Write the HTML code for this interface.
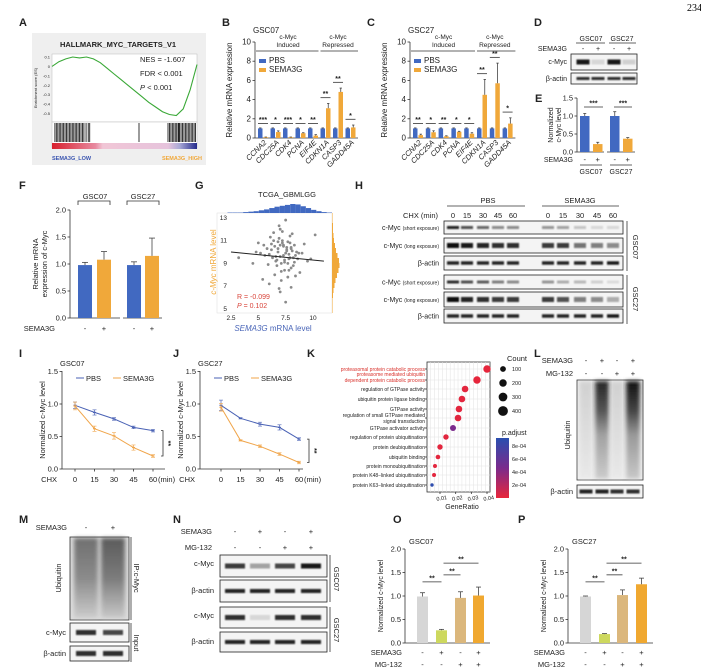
<!DOCTYPE html>
<html><head><meta charset="utf-8">
<style>
html,body{margin:0;padding:0;background:#fff;}
svg{display:block;font-family:"Liberation Sans",Arial,sans-serif;}
</style></head>
<body>
<svg id="fig" width="701" height="672" viewBox="0 0 701 672" xmlns="http://www.w3.org/2000/svg">
<defs>
<filter id="blur" x="-20%" y="-50%" width="140%" height="200%"><feGaussianBlur stdDeviation="0.9"/></filter>
<filter id="blur2" x="-20%" y="-20%" width="140%" height="140%"><feGaussianBlur stdDeviation="2"/></filter>
<linearGradient id="gseabar" x1="0" x2="1" y1="0" y2="0">
<stop offset="0" stop-color="#d8202e"/><stop offset="0.3" stop-color="#e88aa0"/><stop offset="0.35" stop-color="#f1c6d6"/><stop offset="0.8" stop-color="#e6c3dc"/><stop offset="0.88" stop-color="#a9a9d6"/><stop offset="1" stop-color="#242a8c"/></linearGradient>
<linearGradient id="padj" x1="0" x2="0" y1="0" y2="1">
<stop offset="0" stop-color="#2a4fb0"/><stop offset="0.5" stop-color="#7a2a8c"/><stop offset="1" stop-color="#e8263a"/></linearGradient>
<linearGradient id="ubiqLow" x1="0" x2="0" y1="0" y2="1"><stop offset="0" stop-color="#bbb"/><stop offset="1" stop-color="#e4e4e4"/></linearGradient>
<linearGradient id="ubiqHigh" x1="0" x2="0" y1="0" y2="1"><stop offset="0" stop-color="#111"/><stop offset="0.3" stop-color="#444"/><stop offset="0.55" stop-color="#999"/><stop offset="1" stop-color="#c8c8c8"/></linearGradient>
<linearGradient id="ipLane" x1="0" x2="0" y1="0" y2="1"><stop offset="0" stop-color="#555"/><stop offset="0.5" stop-color="#777"/><stop offset="1" stop-color="#c8c8c8"/></linearGradient>
</defs>
<text x="687" y="11" font-size="10" font-family="Liberation Serif">234</text>
</svg>
<script>
const NS='http://www.w3.org/2000/svg';
const svg=document.getElementById('fig');
const BLUE='#4169c1', ORANGE='#f0a83a';
function mk(tag,attrs,name,parent,text){
  const el=document.createElementNS(NS,tag);
  for(const k in attrs) el.setAttribute(k,attrs[k]);
  
  
  if(text!==undefined) el.textContent=text;
  (parent||svg).appendChild(el);
  return el;
}
function T(x,y,s,size,name,o){o=o||{};
  const a={x:x,y:y,'font-size':size,fill:o.fill||'#222'};
  if(o.anchor)a['text-anchor']=o.anchor;
  if(o.bold)a['font-weight']='bold';
  if(o.italic)a['font-style']='italic';
  if(o.rot!==undefined)a.transform='rotate('+o.rot+' '+x+' '+y+')';
  return mk('text',a,name,null,s);}
function L(x1,y1,x2,y2,name,o){o=o||{};
  return mk('line',{x1:x1,y1:y1,x2:x2,y2:y2,stroke:o.stroke||'#333','stroke-width':o.w||0.8},name);}
function R(x,y,w,h,fill,name,o){o=o||{};
  const a={x:x,y:y,width:w,height:h,fill:fill};
  if(o.stroke){a.stroke=o.stroke;a['stroke-width']=o.sw||0.8;}
  if(o.filter)a.filter=o.filter;
  if(o.opacity!==undefined)a.opacity=o.opacity;
  return mk('rect',a,name);}
function letter(x,y,s){T(x,y,s,11,'panel-label-'+s.toLowerCase(),{bold:true});}
function errbar(x,yTop,yErr,cap,name,color){L(x,yTop,x,yErr,name,{stroke:color||'#444',w:0.8});L(x-cap,yErr,x+cap,yErr,name+'-cap',{stroke:color||'#444',w:0.8});}
function sig(x1,x2,y,s,name){L(x1,y,x2,y,name+'-line',{w:0.8});T((x1+x2)/2,y-1.5,s,7,name,{anchor:'middle',bold:true});}
function yaxis(x,y0,y1,ticks,fmt,scale,name,size){L(x,y1,x,y0,name+'-line');
  ticks.forEach(v=>{const y=scale(v);L(x-2.5,y,x,y,name+'-tick');T(x-4,y+2.5,fmt(v),size||7.5,name+'-label',{anchor:'end'});});}

// ================= A: GSEA =================
letter(19,26,'A');
const gseaES=[0.0,0.05,0.08,0.10,0.09,0.10,0.08,0.04,-0.02,-0.08,-0.14,-0.20,-0.26,-0.32,-0.38,-0.43,-0.48,-0.51,-0.52,-0.45,-0.25,0.02];
const gseaHits=[0.02,0.03,0.04,0.05,0.06,0.07,0.08,0.09,0.10,0.11,0.12,0.13,0.14,0.15,0.16,0.17,0.18,0.19,0.2,0.21,0.22,0.235,0.25,0.26,0.6,0.8,0.81,0.82,0.83,0.84,0.85,0.86,0.87,0.875,0.88,0.89,0.9,0.91,0.92,0.93,0.94,0.95,0.96,0.97,0.98,0.99];
R(32,33,174,132,'#efefef','gsea-background');
T(118,47,'HALLMARK_MYC_TARGETS_V1',7.5,'gsea-title',{anchor:'middle',bold:true});
R(52,54,145,68,'#fff','gsea-es-plot',{stroke:'#bbb',sw:0.5});
(function(){const x0=52,x1=197,ys=v=>57-(v-0.1)/0.7*66;
  const esTicks=[0.1,0,-0.1,-0.2,-0.3,-0.4,-0.5];
  esTicks.forEach(v=>{T(50,ys(v)+1.5,String(v),4,'es-tick-label',{anchor:'end'});});
  T(37,88,'Enrichment score (ES)',4,'es-axis-title',{anchor:'middle',rot:-90});
  let d='';gseaES.forEach((v,i)=>{const x=x0+i/(gseaES.length-1)*(x1-x0);d+=(i?'L':'M')+x.toFixed(1)+','+ys(v).toFixed(1);});
  mk('path',{d:d,fill:'none',stroke:'#3aa837','stroke-width':1.1},'es-curve');
  R(52,122,145,26,'#fff','gsea-barcode-box',{stroke:'#bbb',sw:0.5});
  gseaHits.forEach(h=>{L(x0+h*(x1-x0),123,x0+h*(x1-x0),142,'barcode-hit',{w:0.9,stroke:'#222'});});
  R(52,143,145,6,'url(#gseabar)','gsea-rank-bar');
})();
T(140,62,'NES = -1.607',7.5,'gsea-nes');
T(140,76,'FDR < 0.001',7.5,'gsea-fdr');
mk('text',{x:140,y:90,'font-size':7.5,fill:'#222'},'gsea-p',null,'').innerHTML='<tspan font-style="italic">P</tspan> &lt; 0.001';
T(52,160,'SEMA3G_LOW',5.5,'gsea-low-label',{fill:'#3b55b0',bold:true});
T(202,160,'SEMA3G_HIGH',5.5,'gsea-high-label',{fill:'#f0a83a',bold:true,anchor:'end'});

// ================= B & C: qPCR =================
const geneCats=['CCNA2','CDC25A','CDK4','PCNA','EIF4E','CDKN1A','CASP3','GADD45A'];
const bPBS=[1,1,1,1,1,1,1,1];
const bPBSerr=[0.05,0.05,0.05,0.05,0.05,0.05,0.05,0.05];
const bSEMA=[0.08,0.62,0.08,0.5,0.25,3.1,4.8,1.1];
const bSEMAerr=[0.02,0.12,0.02,0.05,0.1,0.5,0.4,0.25];
const bSig=['***','*','***','*','**','**','**','*'];
const cPBS=[1,1,1,1,1,1,1,1];
const cPBSerr=[0.05,0.05,0.05,0.05,0.05,0.05,0.05,0.05];
const cSEMA=[0.3,0.6,0.18,0.65,0.45,4.5,5.7,1.5];
const cSEMAerr=[0.1,0.15,0.05,0.05,0.1,1.6,2.1,0.6];
const cSig=['**','*','**','*','*','**','**','*'];
const qTicks=[0,2,4,6,8,10];
function qpcr(id,ax,x0,step,pbs,pe,sem,se,sg,title){
  const y=v=>138-v*9.6;
  T(ax-2,33,title,8,id+'-title');
  yaxis(ax,138,42,qTicks,v=>String(v),y,id+'-y-axis',8);
  T(ax-23,90,'Relative mRNA expression',8,id+'-y-axis-title',{anchor:'middle',rot:-90});
  L(ax,138,x0+step*8,138,id+'-x-axis');
  pbs.forEach((v,i)=>{const bx=x0+i*step;
    R(bx,y(v),4.5,138-y(v),BLUE,id+'-bar-pbs-'+geneCats[i]);
    errbar(bx+2.25,y(v),y(v+pe[i]),1.2,id+'-err-pbs');
    const s=sem[i];R(bx+5.5,y(s),4.5,138-y(s),ORANGE,id+'-bar-sema3g-'+geneCats[i]);
    errbar(bx+7.75,y(s),y(s+se[i]),1.2,id+'-err-sema3g');
    const lvl=i<5?1.5:Math.max(s+se[i],1)+0.6;
    sig(bx,bx+10,y(lvl),sg[i],id+'-sig-'+geneCats[i]);
    T(bx+9,143,geneCats[i],7.5,id+'-x-label',{anchor:'end',rot:-45,italic:true});
  });
  const c1=x0+2*step+5, c2=x0+6*step+5;
  T(c1,39,'c-Myc',6.5,id+'-induced-header',{anchor:'middle'});T(c1,47,'Induced',6.5,id+'-induced-header2',{anchor:'middle'});
  L(x0-2,51,x0+5*step-2,51,id+'-induced-bracket');
  T(c2,39,'c-Myc',6.5,id+'-repressed-header',{anchor:'middle'});T(c2,47,'Repressed',6.5,id+'-repressed-header2',{anchor:'middle'});
  L(x0+5*step,51,x0+8*step,51,id+'-repressed-bracket');
  R(x0+1,59,7,4,BLUE,id+'-legend-pbs-swatch');T(x0+11,63,'PBS',8,id+'-legend-pbs');
  R(x0+1,68,7,4,ORANGE,id+'-legend-sema3g-swatch');T(x0+11,72,'SEMA3G',8,id+'-legend-sema3g');
}
letter(222,26,'B');
qpcr('chart-b',255,258,12.5,bPBS,bPBSerr,bSEMA,bSEMAerr,bSig,'GSC07');
letter(367,26,'C');
qpcr('chart-c',410,413,12.8,cPBS,cPBSerr,cSEMA,cSEMAerr,cSig,'GSC27');

// ================= D: blot =================
letter(534,26,'D');
const dMyc=[0.95,0.12,0.95,0.15];
const dActin=[0.85,0.85,0.85,0.85];
const dLanes=[583,598,614,629];
T(591,41,'GSC07',7,'blot-d-gsc07',{anchor:'middle'});L(576,43,605,43,'blot-d-gsc07-line');
T(622,41,'GSC27',7,'blot-d-gsc27',{anchor:'middle'});L(609,43,636,43,'blot-d-gsc27-line');
T(567,51,'SEMA3G',7,'blot-d-sema3g-label',{anchor:'end'});
['-','+','-','+'].forEach((s,i)=>T(dLanes[i],51,s,7,'blot-d-sema3g-sign',{anchor:'middle'}));
function blotRow(x,y,w,h,lanes,vals,bw,name,bh){R(x,y,w,h,'#f4f4f4',name+'-box',{stroke:'#222',sw:0.8});
  vals.forEach((v,i)=>{R(lanes[i]-bw/2,y+h/2-(bh||3)/2,bw,bh||3,'#111',name+'-band',{opacity:v,filter:'url(#blur)'});});}
blotRow(571,54,66,16,dLanes,dMyc,13,'blot-d-cmyc',5);
T(567,64,'c-Myc',7,'blot-d-cmyc-label',{anchor:'end'});
blotRow(571,73,66,11,dLanes,dActin,13,'blot-d-actin',3);
T(567,81,'β-actin',7,'blot-d-actin-label',{anchor:'end'});

// ================= E =================
letter(535,102,'E');
const eVals=[1.0,0.22,1.0,0.37];
const eErr=[0.07,0.05,0.12,0.03];
(function(){const y=v=>152-v*36, xs=[580,593,610,623];
  yaxis(577,152,98,[0,0.5,1,1.5],v=>v.toFixed(1),y,'chart-e-y-axis',7.5);
  T(553,125,'Normalized',7,'chart-e-y-title1',{anchor:'middle',rot:-90});
  T(561,125,'c-Myc level',7,'chart-e-y-title2',{anchor:'middle',rot:-90});
  L(577,152,604,152,'chart-e-x-axis');L(607,152,635,152,'chart-e-x-axis2');
  eVals.forEach((v,i)=>{R(xs[i],y(v),9.5,152-y(v),i%2?ORANGE:BLUE,'chart-e-bar');errbar(xs[i]+4.75,y(v),y(v+eErr[i]),1.5,'chart-e-err');});
  sig(584,603,y(1.25),'***','chart-e-sig-gsc07');sig(614,632,y(1.25),'***','chart-e-sig-gsc27');
  T(573,162,'SEMA3G',7,'chart-e-sema3g-label',{anchor:'end'});
  ['-','+','-','+'].forEach((s,i)=>T(xs[i]+4.75,162,s,7.5,'chart-e-sign',{anchor:'middle'}));
  L(580,165,602,165,'chart-e-group-line1');L(610,165,632,165,'chart-e-group-line2');
  T(591,174,'GSC07',7,'chart-e-gsc07',{anchor:'middle'});T(621,174,'GSC27',7,'chart-e-gsc27',{anchor:'middle'});
})();

// ================= F =================
letter(19,189,'F');
const fVals=[0.98,1.08,0.98,1.15];
const fErr=[0.05,0.15,0.06,0.33];
(function(){const y=v=>318-v*54, xs=[78,97,127,145];
  yaxis(70,318,210,[0,0.5,1,1.5,2],v=>v.toFixed(1),y,'chart-f-y-axis',7.5);
  T(38,264,'Relative mRNA',7.5,'chart-f-y-title1',{anchor:'middle',rot:-90});
  T(47,264,'expression of c-Myc',7.5,'chart-f-y-title2',{anchor:'middle',rot:-90});
  L(70,318,120,318,'chart-f-x-axis');L(123,318,162,318,'chart-f-x-axis2');
  fVals.forEach((v,i)=>{R(xs[i],y(v),14,318-y(v),i%2?ORANGE:BLUE,'chart-f-bar');errbar(xs[i]+7,y(v),y(v+fErr[i]),3,'chart-f-err');});
  T(95,199,'GSC07',7.5,'chart-f-gsc07',{anchor:'middle'});mk('path',{d:'M78,205 V201 H110 V205',fill:'none',stroke:'#333','stroke-width':0.8},'chart-f-bracket1');
  T(143,199,'GSC27',7.5,'chart-f-gsc27',{anchor:'middle'});mk('path',{d:'M127,205 V201 H159 V205',fill:'none',stroke:'#333','stroke-width':0.8},'chart-f-bracket2');
  T(55,331,'SEMA3G',7.5,'chart-f-sema3g-label',{anchor:'end'});
  ['-','+','-','+'].forEach((s,i)=>T(xs[i]+7,331,s,7.5,'chart-f-sign',{anchor:'middle'}));
})();

// ================= G scatter =================
letter(195,189,'G');
const gX=[6.2,6.5,6.8,7.0,7.2,7.4,7.6,7.8,8.0,8.2,6.0,6.4,6.9,7.3,7.7,8.1,8.4,5.8,6.6,7.1,7.5,7.9,8.3,5.5,6.3,6.7,7.2,7.6,8.0,8.5,5.2,6.1,6.8,7.4,7.8,8.6,9.0,4.8,5.9,7.0,7.3,7.9,8.8,6.5,7.1,7.7,8.2,6.9,7.5,8.1,3.2,4.5,5.0,9.5,10.2,6.0,7.0,8.0,7.2,6.6,7.8,8.4,5.6,6.2,7.4,8.0,9.2,6.8,7.6,7.9,6.4,7.1,7.7,8.3,5.4,6.7,7.3,9.8,7.5,6.9,8.7,7.0];
const gY=[10.2,10.5,10.0,9.6,10.8,9.3,10.1,9.8,10.4,9.5,9.8,11.0,11.2,10.6,10.9,10.1,9.7,10.3,9.2,9.0,9.9,11.4,9.1,10.6,9.5,8.8,11.8,10.4,8.6,10.0,9.9,11.3,10.3,8.4,9.4,9.4,9.9,10.0,8.9,12.0,9.7,10.8,8.2,8.0,7.5,7.8,8.8,12.3,12.8,11.6,9.5,9.0,10.8,9.2,11.5,7.2,6.5,6.9,11.0,9.6,8.4,7.9,9.7,10.7,9.1,10.3,10.7,10.9,10.2,9.5,11.7,8.3,9.0,10.6,7.6,9.3,10.5,9.4,5.6,6.8,9.9,10.6];
const gTicksX=[2.5,5,7.5,10];
const gTicksY=[5,7,9,11,13];
const gFitX=[2.5,11];
const gFitY=[10.0,9.2];
const gHistTop=[0,0,1,1,1,2,3,4,6,8,11,14,16,18,20,19,15,11,7,4,2,1];
const gHistRight=[1,1,2,2,3,4,6,8,11,14,15,13,10,7,5,3,2,1,1,1];
(function(){const sx=v=>231+(v-2.5)*10.93, sy=v=>309-(v-5)*11.4;
  T(258,197,'TCGA_GBMLGG',7.5,'chart-g-title');
  R(217,213,115,100,'#fff','chart-g-plot-box',{stroke:'#ddd',sw:0.5});
  gTicksX.forEach(v=>T(sx(v),320,String(v),6.5,'chart-g-x-tick',{anchor:'middle'}));
  gTicksY.forEach(v=>T(227,sy(v)+2,String(v),6.5,'chart-g-y-tick',{anchor:'end'}));
  gX.forEach((x,i)=>mk('circle',{cx:sx(x),cy:sy(gY[i]),r:1.4,fill:'#8a8a8a'},'chart-g-point'));
  L(sx(gFitX[0]),sy(gFitY[0]),sx(gFitX[1]),sy(gFitY[1]),'chart-g-fit-line',{w:1,stroke:'#222'});
  const bw=(332-217)/gHistTop.length;
  gHistTop.forEach((c,i)=>R(217+i*bw,213-c*0.45,bw,c*0.45,BLUE,'chart-g-top-hist-bar'));
  const bh=(313-213)/gHistRight.length;
  gHistRight.forEach((c,i)=>R(332,213+i*bh,c*0.5,bh,ORANGE,'chart-g-right-hist-bar'));
  T(237,299,'R = -0.099',7,'chart-g-r',{fill:'#d9453b'});
  mk('text',{x:237,y:308,'font-size':7,fill:'#d9453b'},'chart-g-p',null,'').innerHTML='<tspan font-style="italic">P</tspan> = 0.102';
  mk('text',{x:273,y:331,'font-size':8,fill:'#4a66b8','text-anchor':'middle'},'chart-g-x-title',null,'').innerHTML='<tspan font-style="italic">SEMA3G</tspan> mRNA level';
  mk('text',{x:216,y:262,'font-size':8,fill:ORANGE,'text-anchor':'middle',transform:'rotate(-90 216 262)'},'chart-g-y-title',null,'').innerHTML='<tspan font-style="italic">c-Myc</tspan> mRNA level';
})();

// ================= H: CHX blots =================
letter(355,189,'H');
const hTimes=[0,15,30,45,60];
const hLanesPBS=[453,467,483,498,513];
const hLanesSEMA=[548,563,580,597,613];
const hShort07=[0.9,0.7,0.6,0.45,0.45,0.4,0.35,0.2,0.12,0.12];
const hLong07=[1,0.95,0.9,0.85,0.85,0.8,0.8,0.55,0.5,0.45];
const hShort27=[0.85,0.7,0.65,0.5,0.45,0.4,0.3,0.25,0.15,0.1];
const hLong27=[1,0.9,0.85,0.8,0.8,0.8,0.7,0.5,0.45,0.3];
const hActin=[0.9,0.9,0.9,0.9,0.9,0.9,0.9,0.9,0.9,0.95];
(function(){const lanes=hLanesPBS.concat(hLanesSEMA);
  T(488,203,'PBS',7.5,'blot-h-pbs-header',{anchor:'middle'});L(447,206,525,206,'blot-h-pbs-line');
  T(580,203,'SEMA3G',7.5,'blot-h-sema3g-header',{anchor:'middle'});L(542,206,619,206,'blot-h-sema3g-line');
  T(438,218,'CHX (min)',7.5,'blot-h-chx-label',{anchor:'end'});
  lanes.forEach((x,i)=>T(x,218,String(hTimes[i%5]),7.5,'blot-h-time',{anchor:'middle'}));
  const rows=[[221,13,hShort07,'c-Myc','(short exposure)',3],[238,15,hLong07,'c-Myc','(long exposure)',5],[256,14,hActin,'β-actin','',3.5],
              [275,14,hShort27,'c-Myc','(short exposure)',3],[292,15,hLong27,'c-Myc','(long exposure)',5],[309,14,hActin,'β-actin','',3.5]];
  rows.forEach((r,k)=>{blotRow(444,r[0],179,r[1],lanes,r[2],12,'blot-h-row'+k,r[5]);
    const t=mk('text',{x:439,y:r[0]+r[1]/2+2.5,'font-size':7,'text-anchor':'end',fill:'#222'},'blot-h-row-label');
    t.innerHTML=r[3]+(r[4]?' <tspan font-size="5">'+r[4]+'</tspan>':'');});
  L(627,221,627,271,'blot-h-gsc07-line');L(627,275,627,324,'blot-h-gsc27-line');
  T(633,247,'GSC07',7.5,'blot-h-gsc07-label',{anchor:'middle',rot:90});
  T(633,299,'GSC27',7.5,'blot-h-gsc27-label',{anchor:'middle',rot:90});
})();

// ================= I & J: decay lines =================
const chxTimes=[0,15,30,45,60];
const iPBS=[0.98,0.87,0.77,0.64,0.59];
const iPBSerr=[0.05,0.04,0.02,0.02,0.02];
const iSEMA=[0.97,0.62,0.51,0.33,0.20];
const iSEMAerr=[0.06,0.04,0.05,0.04,0.02];
const jPBS=[0.98,0.78,0.69,0.64,0.46];
const jPBSerr=[0.08,0.01,0.03,0.04,0.02];
const jSEMA=[0.95,0.44,0.35,0.23,0.10];
const jSEMAerr=[0.06,0.01,0.02,0.02,0.02];
const decayTicks=[0,0.5,1,1.5];
function decay(id,ax,x0,pbs,pe,sem,se,title){
  const LB='#4a62b5', LO='#f0a54a';
  const y=v=>469-v*65, x=t=>x0+t/15*19.5;
  T(ax-2,366,title,7.5,id+'-title');
  yaxis(ax,469,371,decayTicks,v=>v.toFixed(1),y,id+'-y-axis',7.5);
  T(ax-17,420,'Normalized c-Myc level',7.5,id+'-y-title',{anchor:'middle',rot:-90});
  L(ax,469,ax+103,469,id+'-x-axis');
  T(ax-5,482,'CHX',7.5,id+'-chx-label',{anchor:'end'});
  chxTimes.forEach(t=>{L(x(t),469,x(t),471.5,id+'-x-tick');T(x(t),482,String(t),7.5,id+'-x-label',{anchor:'middle'});});
  T(x(60)+5,482,'(min)',7.5,id+'-min-label');
  [[pbs,pe,LB,'pbs'],[sem,se,LO,'sema3g']].forEach(s=>{
    const pts=chxTimes.map((t,i)=>x(t).toFixed(1)+','+y(s[0][i]).toFixed(1)).join(' ');
    mk('polyline',{points:pts,fill:'none',stroke:s[2],'stroke-width':1},id+'-line-'+s[3]);
    chxTimes.forEach((t,i)=>{const v=s[0][i];L(x(t),y(v-s[1][i]),x(t),y(v+s[1][i]),id+'-err-'+s[3],{stroke:s[2],w:0.7});
      L(x(t)-2,y(v+s[1][i]),x(t)+2,y(v+s[1][i]),id+'-errcap',{stroke:s[2],w:0.6});L(x(t)-2,y(v-s[1][i]),x(t)+2,y(v-s[1][i]),id+'-errcap',{stroke:s[2],w:0.6});
      L(x(t)-1.5,y(v),x(t)+1.5,y(v),id+'-marker-'+s[3],{stroke:s[2],w:1.2});});
  });
  const bx=x(60)+10;mk('path',{d:'M'+(bx-2)+','+y(pbs[4])+' H'+bx+' V'+y(sem[4])+' H'+(bx-2),fill:'none',stroke:'#333','stroke-width':0.8},id+'-sig-bracket');
  T(bx+3,(y(pbs[4])+y(sem[4]))/2,'**',7,id+'-sig',{anchor:'middle',rot:90,bold:true});
  L(ax+14,378,ax+22,378,id+'-legend-pbs-line',{stroke:LB,w:1});T(ax+24,381,'PBS',7.5,id+'-legend-pbs');
  L(ax+51,378,ax+59,378,id+'-legend-sema3g-line',{stroke:LO,w:1});T(ax+61,381,'SEMA3G',7.5,id+'-legend-sema3g');
}
letter(19,357,'I');
decay('chart-i',62,75,iPBS,iPBSerr,iSEMA,iSEMAerr,'GSC07');
letter(173,357,'J');
decay('chart-j',200,221,jPBS,jPBSerr,jSEMA,jSEMAerr,'GSC27');

// ================= K: GO dot plot =================
letter(307,357,'K');
const kTerms=['proteasomal protein catabolic process','proteasome mediated ubiquitin|dependent protein catabolic process','regulation of GTPase activity','ubiquitin protein ligase binding','GTPase activity','regulation of small GTPase mediated|signal transduction','GTPase activator activity','regulation of protein ubiquitination','protein deubiquitination','ubiquitin binding','protein monoubiquitination','protein K48−linked ubiquitination','protein K63−linked ubiquitination'];
const kRatio=[0.0400,0.0336,0.0260,0.0240,0.0221,0.0215,0.0183,0.0138,0.0100,0.0087,0.0068,0.0062,0.0049];
const kCount=[196,196,144,144,144,144,110,81,81,49,30,30,16];
const kPadj=[0.00001,0.00001,0.00002,0.00002,0.00002,0.00003,0.00045,0.00003,0.00002,0.00002,0.00002,0.00002,0.00088];
const kRatioTicks=[0.01,0.02,0.03,0.04];
const kCountLegend=[100,200,300,400];
const kPadjTicks=[0.0008,0.0006,0.0004,0.0002];
(function(){const x=g=>440+(g-0.01)*1567, r=c=>0.9+Math.sqrt(c)*0.2;
  const rowY=[369,380,389,399,409,418,428,437,447,457,466,475,485];
  function col(p){const t=Math.min(1,p/0.0009);const a=[232,38,58],m=[122,42,140],b=[42,79,176];
    const u=t<0.5?[a,m,t*2]:[m,b,(t-0.5)*2];return 'rgb('+u[0].map((c,i)=>Math.round(c+(u[1][i]-c)*u[2])).join(',')+')';}
  R(427,362,63,130,'#fff','chart-k-plot-box',{stroke:'#333',sw:0.8});
  for(let gx=0.004;gx<0.0425;gx+=0.0025)L(x(gx),362,x(gx),492,'chart-k-grid-v',{stroke:'#e2e2e2',w:0.5});
  rowY.forEach(y=>L(427,y,490,y,'chart-k-grid-h',{stroke:'#e2e2e2',w:0.5}));
  kTerms.forEach((t,i)=>{const parts=t.split('|');const red=i<2;
    parts.forEach((p,j)=>T(425,rowY[i]+2+(j-(parts.length-1))*6+(parts.length>1&&i==5?3:0),p,5,'chart-k-term-label',{anchor:'end',fill:red?'#d9312b':'#222'}));
    L(425,rowY[i],427,rowY[i],'chart-k-y-tick');
    mk('circle',{cx:x(kRatio[i]),cy:rowY[i],r:r(kCount[i]),fill:col(kPadj[i])},'chart-k-dot');});
  kRatioTicks.forEach(g=>{L(x(g),492,x(g),494,'chart-k-x-tick');T(x(g)+2,500,String(g),5.5,'chart-k-x-label',{anchor:'middle',rot:-10});});
  T(462,509,'GeneRatio',7,'chart-k-x-title',{anchor:'middle'});
  T(507,361,'Count',7.5,'chart-k-count-title');
  kCountLegend.forEach((c,i)=>{mk('circle',{cx:503,cy:369+i*14,r:r(c)*1.0,fill:'#111'},'chart-k-count-legend-dot');T(512,371+i*14,String(c),5.5,'chart-k-count-legend-label');});
  T(502,435,'p.adjust',7,'chart-k-padj-title');
  R(496,438,13,60,'url(#padj)','chart-k-padj-colorbar');
  kPadjTicks.forEach(p=>{const yy=498-p/0.00088*57;L(509,yy,511,yy,'chart-k-padj-tick',{stroke:'#fff'});T(512,yy+2,p.toExponential(0).replace('e-4','e-04'),5.5,'chart-k-padj-label');});
})();

// ================= L: ubiquitin blot =================
letter(534,357,'L');
const lSema=['-','+','-','+'];
const lMg=['-','-','+','+'];
const lLanes=[586,602,617,633];
const lSmear=[0.2,0.9,0.15,1.0];
(function(){T(573,363,'SEMA3G',7.5,'blot-l-sema3g-label',{anchor:'end'});T(573,376,'MG-132',7.5,'blot-l-mg132-label',{anchor:'end'});
  lLanes.forEach((x,i)=>{T(x,363,lSema[i],7.5,'blot-l-sema3g-sign',{anchor:'middle'});T(x,376,lMg[i],7.5,'blot-l-mg132-sign',{anchor:'middle'});});
  R(577,380,66,100,'#f2f2f2','blot-l-ubiquitin-box',{stroke:'#333',sw:0.8});
  lLanes.forEach((x,i)=>R(x-7,381,14,98,lSmear[i]>0.5?'url(#ubiqHigh)':'url(#ubiqLow)','blot-l-ubiquitin-lane',{opacity:lSmear[i]>0.5?lSmear[i]:0.6,filter:'url(#blur2)'}));
  T(570,435,'Ubiquitin',7.5,'blot-l-ubiquitin-label',{anchor:'middle',rot:-90});
  blotRow(577,485,66,13,lLanes,[0.9,0.9,0.85,0.85],13,'blot-l-actin',4);
  T(573,494,'β-actin',7.5,'blot-l-actin-label',{anchor:'end'});
})();

// ================= M: IP blot =================
letter(19,523,'M');
const mLanes=[86,113];
const mInputMyc=[0.85,0.75];
const mActin=[0.85,0.85];
(function(){T(67,530,'SEMA3G',7.5,'blot-m-sema3g-label',{anchor:'end'});
  ['-','+'].forEach((s,i)=>T(mLanes[i],530,s,7.5,'blot-m-sema3g-sign',{anchor:'middle'}));
  R(70,537,59,83,'#ddd','blot-m-ip-box',{stroke:'#333',sw:0.8});
  mLanes.forEach((x,i)=>R(x-12,538,24,80,'url(#ipLane)','blot-m-ip-lane',{opacity:0.8+i*0.15,filter:'url(#blur2)'}));
  T(61,578,'Ubiquitin',7.5,'blot-m-ubiquitin-label',{anchor:'middle',rot:-90});
  blotRow(70,623,59,19,mLanes,mInputMyc,20,'blot-m-input-cmyc',5);
  T(66,635,'c-Myc',7.5,'blot-m-cmyc-label',{anchor:'end'});
  blotRow(70,646,59,15,mLanes,mActin,20,'blot-m-actin',5);
  T(66,656,'β-actin',7.5,'blot-m-actin-label',{anchor:'end'});
  L(131,537,131,620,'blot-m-ip-line');L(131,623,131,662,'blot-m-input-line');
  T(134,578,'IP:c-Myc',7.5,'blot-m-ip-label',{anchor:'middle',rot:90});
  T(134,643,'Input',7.5,'blot-m-input-label',{anchor:'middle',rot:90});
})();

// ================= N: MG-132 blots =================
letter(173,523,'N');
const nLanes=[235,260,285,311];
const nSema=['-','+','-','+'];
const nMg=['-','-','+','+'];
const nMyc07=[0.8,0.35,0.75,0.95];
const nMyc27=[0.85,0.12,0.85,0.85];
const nActin=[0.9,0.9,0.9,0.9];
(function(){T(212,534,'SEMA3G',7.5,'blot-n-sema3g-label',{anchor:'end'});T(212,550,'MG-132',7.5,'blot-n-mg132-label',{anchor:'end'});
  nLanes.forEach((x,i)=>{T(x,534,nSema[i],7.5,'blot-n-sema3g-sign',{anchor:'middle'});T(x,550,nMg[i],7.5,'blot-n-mg132-sign',{anchor:'middle'});});
  blotRow(220,555,107,22,nLanes,nMyc07,20,'blot-n-cmyc-gsc07',5);T(214,566,'c-Myc',7.5,'blot-n-cmyc-label',{anchor:'end'});
  blotRow(220,580,107,22,nLanes,nActin,20,'blot-n-actin-gsc07',4);T(214,593,'β-actin',7.5,'blot-n-actin-label',{anchor:'end'});
  blotRow(220,607,107,21,nLanes,nMyc27,20,'blot-n-cmyc-gsc27',5);T(214,618,'c-Myc',7.5,'blot-n-cmyc-label2',{anchor:'end'});
  blotRow(220,632,107,20,nLanes,nActin,20,'blot-n-actin-gsc27',4);T(214,644,'β-actin',7.5,'blot-n-actin-label2',{anchor:'end'});
  L(330,555,330,602,'blot-n-gsc07-line');L(330,607,330,652,'blot-n-gsc27-line');
  T(334,579,'GSC07',7.5,'blot-n-gsc07-label',{anchor:'middle',rot:90});
  T(334,630,'GSC27',7.5,'blot-n-gsc27-label',{anchor:'middle',rot:90});
})();

// ================= O & P =================
const oVals=[0.99,0.27,0.96,1.01];
const oErr=[0.08,0.02,0.13,0.18];
const pVals=[0.99,0.19,1.02,1.25];
const pErr=[0.01,0.01,0.11,0.13];
const opTicks=[0,0.5,1,1.5,2];
const opSema=['-','+','-','+'];
const opMg=['-','-','+','+'];
const opColors=['#d6d6d6','#cdd85e','#dbb77c','#f0a830'];
function opChart(id,ax,xs,bw,vals,err,title){
  const y=v=>643-v*47;
  T(ax+4,544,title,7.5,id+'-title');
  yaxis(ax,643,549,opTicks,v=>v.toFixed(1),y,id+'-y-axis',7.5);
  T(ax-22,596,'Normalized c-Myc level',7,id+'-y-title',{anchor:'middle',rot:-90});
  L(ax,643,xs[3]+bw+6,643,id+'-x-axis');
  vals.forEach((v,i)=>{R(xs[i],y(v),bw,643-y(v),opColors[i],id+'-bar');errbar(xs[i]+bw/2,y(v),y(v+err[i]),2.5,id+'-err');});
  const c=i=>xs[i]+bw/2;
  sig(c(0),c(1),y(1.3),'**',id+'-sig-1');sig(c(1)+2,c(2),y(1.45),'**',id+'-sig-2');sig(c(1)+2,c(3),y(1.7),'**',id+'-sig-3');
  T(ax-3,655,'SEMA3G',7.5,id+'-sema3g-label',{anchor:'end'});T(ax-3,667,'MG-132',7.5,id+'-mg132-label',{anchor:'end'});
  xs.forEach((x,i)=>{T(c(i),655,opSema[i],7.5,id+'-sema3g-sign',{anchor:'middle'});T(c(i),667,opMg[i],7.5,id+'-mg132-sign',{anchor:'middle'});});
}
letter(393,523,'O');
opChart('chart-o',405,[417,436,455,473],11,oVals,oErr,'GSC07');
letter(518,523,'P');
opChart('chart-p',568,[580,599,617,636],11,pVals,pErr,'GSC27');
</script>
</body></html>
